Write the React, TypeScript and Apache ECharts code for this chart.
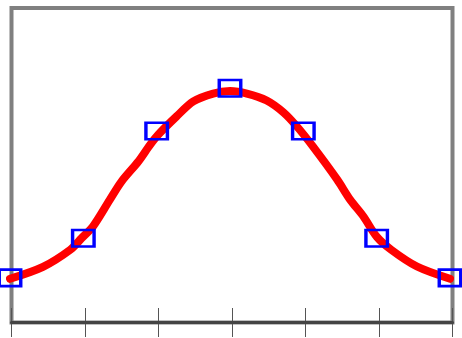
import React, { useEffect, useRef } from "react";
import * as echarts from "echarts";

// Curve samples: [x position (category units), value]
const curveX = [0, 0.45, 0.82, 0.98, 1.13, 1.36, 1.52, 1.75, 1.91, 2.02, 2.27, 2.5, 2.77, 3.0, 3.23, 3.5, 3.73, 3.91, 4.13, 4.46, 4.64, 4.82, 5.0, 5.2, 5.55, 6.0];
const curveY = [13.9, 17.7, 23.1, 26.9, 30.5, 39.0, 44.8, 51.2, 56.5, 59.7, 65.5, 70.3, 72.8, 73.6, 72.8, 70.6, 66.8, 62.4, 56.0, 45.5, 39.0, 33.7, 27.3, 23.1, 17.8, 13.9];

// Marker points
const markerX = [0, 1, 2, 3, 4, 5, 6];
const markerY = [14.2, 26.8, 60.9, 74.5, 60.9, 26.8, 14.2];

export default function App() {
  const ref = useRef<HTMLDivElement>(null);
  useEffect(() => {
    document.body.style.margin = "0";
    const chart = echarts.init(ref.current!, undefined, { renderer: "svg" });
    const curve = curveX.map((x, i) => [x, curveY[i]]);
    const markers = markerX.map((x, i) => [x, markerY[i]]);
    chart.setOption({
      animation: false,
      grid: [
        { left: 11.5, right: 9.5, top: 8, bottom: 15.5, show: true, borderColor: "#808080", borderWidth: 4, backgroundColor: "transparent" },
        { left: 10, right: 12, top: 8, bottom: 15.5 },
        { left: 11.5, right: 9.5, top: 308, bottom: 1 },
      ],
      xAxis: [
        {
          type: "value", gridIndex: 0, min: 0, max: 6, interval: 1, position: "bottom",
          axisLine: { show: true, onZero: false, lineStyle: { color: "#444", width: 3 } },
          axisTick: { show: false }, axisLabel: { show: false }, splitLine: { show: false },
        },
        { type: "value", gridIndex: 1, min: 0, max: 6, show: false },
        {
          type: "value", gridIndex: 2, min: 0, max: 6, interval: 1, position: "bottom",
          axisLine: { show: false }, axisTick: { show: false }, axisLabel: { show: false },
          splitLine: { show: true, showMinLine: true, showMaxLine: true, lineStyle: { color: "#555", width: 1 } },
        },
      ],
      yAxis: [
        { type: "value", gridIndex: 0, min: 0, max: 100, show: false },
        { type: "value", gridIndex: 1, min: 0, max: 100, show: false },
        { type: "value", gridIndex: 2, min: 0, max: 100, show: false, splitLine: { show: false } },
      ],
      series: [
        {
          type: "line", xAxisIndex: 1, yAxisIndex: 1, data: curve, showSymbol: false, symbol: "none",
          smooth: 0.3, clip: false, z: 2,
          lineStyle: { color: "#ff0000", width: 8, cap: "round", join: "round" },
        },
        {
          type: "scatter", xAxisIndex: 1, yAxisIndex: 1, data: markers, symbol: "rect",
          symbolSize: [21.5, 16.5], clip: false, z: 3,
          itemStyle: { color: "transparent", borderColor: "#0000ff", borderWidth: 3, opacity: 1 },
        },
      ],
    });
    return () => chart.dispose();
  }, []);
  return <div ref={ref} style={{ width: 462, height: 338 }} />;
}
